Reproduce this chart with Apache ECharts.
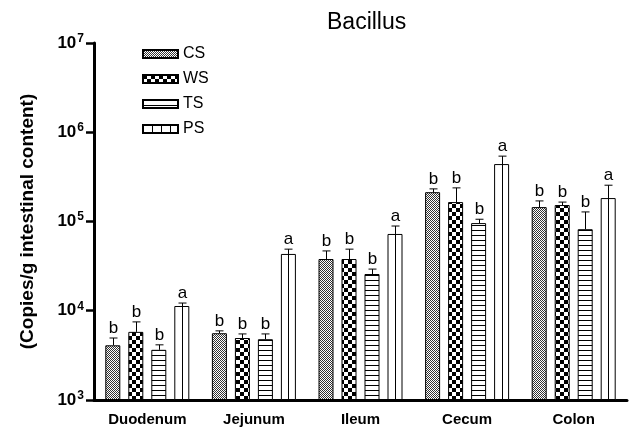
<!DOCTYPE html>
<html>
<head>
<meta charset="utf-8">
<script src="https://cdn.jsdelivr.net/npm/echarts@6/dist/echarts.min.js"></script>
<style>html,body{margin:0;padding:0;background:#fff;}#c{width:633px;height:431px;}</style>
</head>
<body>
<div id="c"></div>
<script>
// ---- data ----
const categories = ['Duodenum', 'Jejunum', 'Ileum', 'Cecum', 'Colon'];
const groups = ['CS', 'WS', 'TS', 'PS'];
const csValues = [4100, 5600, 38000, 213000, 145000];
const wsValues = [5800, 4950, 38000, 165000, 153000];
const tsValues = [3650, 4800, 25800, 96000, 82000];
const psValues = [11300, 43300, 72500, 440000, 183000];
const csErrTop = [4950, 5950, 46800, 232000, 170000];
const wsErrTop = [7500, 5500, 49000, 238000, 165000];
const tsErrTop = [4150, 5500, 29300, 106000, 128000];
const psErrTop = [12200, 49000, 89000, 540000, 255000];
const csLetters = ['b', 'b', 'b', 'b', 'b'];
const wsLetters = ['b', 'b', 'b', 'b', 'b'];
const tsLetters = ['b', 'b', 'b', 'b', 'b'];
const psLetters = ['a', 'a', 'a', 'a', 'a'];
const yTickExponents = [3, 4, 5, 6, 7];

// ---- styles ----
const FONT = 'Arial, "Liberation Sans", sans-serif';
const BAR_W = 15;
const BAR_GAP = 8;
const Y_MIN = 1000, Y_MAX = 1e7;

function makePattern(w, h, draw) {
  const c = document.createElement('canvas');
  c.width = w; c.height = h;
  const ctx = c.getContext('2d');
  ctx.fillStyle = '#fff'; ctx.fillRect(0, 0, w, h);
  ctx.fillStyle = '#000';
  draw(ctx);
  return { image: c, repeat: 'repeat' };
}
const patCS = makePattern(2, 2, ctx => { ctx.fillStyle = '#333'; ctx.fillRect(0, 0, 1, 1); ctx.fillRect(1, 1, 1, 1); });
const patWS = makePattern(8, 8, ctx => { ctx.fillRect(0, 0, 4, 4); ctx.fillRect(4, 4, 4, 4); });
const patTS = makePattern(4, 5, ctx => { ctx.fillRect(0, 0, 4, 1); });
const patPSLegend = makePattern(9, 4, ctx => { ctx.fillRect(0, 0, 1, 4); });
const fills = [patCS, patWS, patTS, '#ffffff'];

const valueSets = [csValues, wsValues, tsValues, psValues];
const errSets = [csErrTop, wsErrTop, tsErrTop, psErrTop];
const letterSets = [csLetters, wsLetters, tsLetters, psLetters];

const series = [];
groups.forEach((g, s) => {
  series.push({
    name: g, type: 'bar', barWidth: BAR_W, barGap: (BAR_GAP / BAR_W * 100) + '%',
    clip: true,
    itemStyle: { color: fills[s], borderColor: '#000', borderWidth: 1 },
    emphasis: { disabled: true },
    data: valueSets[s]
  });
});
groups.forEach((g, s) => {
  const offset = (s - 1.5) * (BAR_W + BAR_GAP);
  series.push({
    name: g + '_err', type: 'custom', silent: true, z: 5,
    encode: { x: 0, y: [1, 2] },
    data: categories.map((c, i) => [i, errSets[s][i], valueSets[s][i], letterSets[s][i]]),
    renderItem: function (params, api) {
      const i = api.value(0);
      const pVal = api.coord([i, api.value(2)]);
      const pTop = api.coord([i, api.value(1)]);
      const pBase = api.coord([i, Y_MIN]);
      const xc = Math.round(pVal[0] + offset) + 0.5;
      const st = { stroke: '#000', lineWidth: 1 };
      const children = [
        { type: 'line', shape: { x1: xc, y1: pVal[1], x2: xc, y2: pTop[1] }, style: st },
        { type: 'line', shape: { x1: xc - 4, y1: pTop[1], x2: xc + 4, y2: pTop[1] }, style: st },
        { type: 'text', style: { x: xc, y: pTop[1] - 1, text: letterSets[s][params.dataIndex], fill: '#000',
            font: '17px ' + FONT, textAlign: 'center', textVerticalAlign: 'bottom' } }
      ];
      if (s === 3) {
        children.push({ type: 'line', shape: { x1: xc, y1: pBase[1], x2: xc, y2: pVal[1] }, style: st });
      }
      return { type: 'group', children: children };
    }
  });
});

const chart = echarts.init(document.getElementById('c'), null, { renderer: 'canvas' });
chart.setOption({
  animation: false,
  backgroundColor: '#fff',
  title: {
    text: 'Bacillus', left: 322, top: 6,
    textStyle: { fontFamily: FONT, fontSize: 23, fontWeight: 'normal', color: '#000' }
  },
  legend: {
    orient: 'vertical', left: 137, top: 41, itemWidth: 35, itemHeight: 8, itemGap: 9,
    selectedMode: false,
    textStyle: { fontFamily: FONT, fontSize: 16, color: '#000' },
    data: [
      { name: 'CS', icon: 'rect' },
      { name: 'WS', icon: 'rect' },
      { name: 'TS', icon: 'rect' },
      { name: 'PS', icon: 'rect', itemStyle: { color: patPSLegend } }
    ]
  },
  grid: { left: 94, right: 6, top: 43, bottom: 31 },
  xAxis: {
    type: 'category', data: categories,
    axisLine: { lineStyle: { color: '#000', width: 3 } },
    axisTick: { alignWithLabel: true, length: 7, lineStyle: { color: '#000', width: 2.5 } },
    axisLabel: { margin: 12, fontFamily: FONT, fontSize: 15, fontWeight: 'bold', color: '#000' }
  },
  yAxis: {
    type: 'log', logBase: 10, min: Y_MIN, max: Y_MAX, startValue: Y_MIN,
    name: '(Copies/g intestinal content)', nameLocation: 'middle', nameGap: 57,
    nameTextStyle: { fontFamily: FONT, fontSize: 19, fontWeight: 'bold', color: '#000' },
    splitLine: { show: false },
    axisLine: { show: true, lineStyle: { color: '#000', width: 3 } },
    axisTick: { show: true, length: 8, lineStyle: { color: '#000', width: 2.5 } },
    axisLabel: {
      margin: 10, color: '#000',
      formatter: function (v) {
        const e = Math.round(Math.log10(v));
        return yTickExponents.indexOf(e) >= 0 ? '{b|10}{s|' + e + '}' : '';
      },
      rich: {
        b: { fontFamily: FONT, fontSize: 17, fontWeight: 'bold', color: '#000' },
        s: { fontFamily: FONT, fontSize: 12, fontWeight: 'bold', color: '#000', padding: [0, 0, 9, 1] }
      }
    }
  },
  series: series
});
</script>
</body>
</html>
